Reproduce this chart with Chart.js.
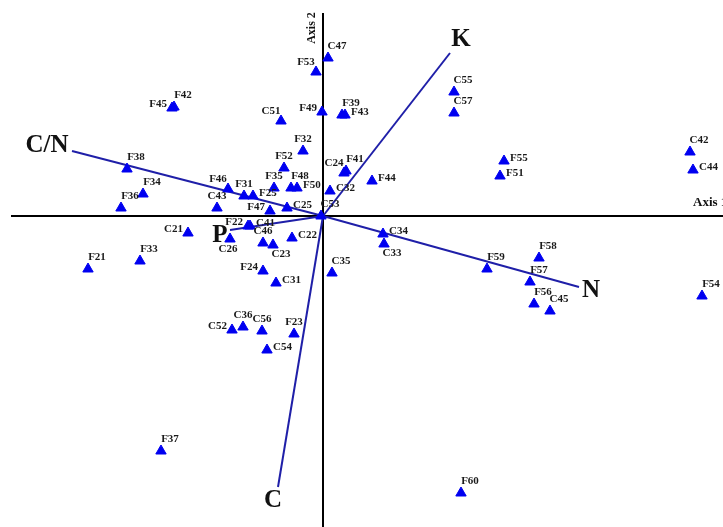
<!DOCTYPE html>
<html>
<head>
<meta charset="utf-8">
<script src="https://cdn.jsdelivr.net/npm/chart.js@4.4.1/dist/chart.umd.min.js"></script>
<style>
  body { margin: 0; background: #fff; }
</style>
</head>
<body>
<canvas id="mycanvas" width="723" height="527"></canvas>
<script>
// site scores (axis 1, axis 2)
var siteNames = ['F42','F45','F38','F34','F36','F46','C43','C21','C26','F33',
                 'F21','C51','F49','F39','F43','F32','F52','C24','F41','F44',
                 'F35','F48','F50','C32','F31','F25','C25','F47','C53','F22',
                 'C41','C46','C23','C22','C34','C33','F24','C35','C31','C36',
                 'C52','C56','F23','C54','C47','F53','C55','C57','F55','F51',
                 'C42','C44','F59','F58','F57','F56','C45','F54','F37','F60'];
var siteAxis1 = [-1.49,-1.51,-1.96,-1.80,-2.02,-0.95,-1.06,-1.35,-0.93,-1.83,
                 -2.35,-0.42,-0.01, 0.19, 0.22,-0.20,-0.39, 0.21, 0.23, 0.49,
                 -0.49,-0.32,-0.26, 0.07,-0.79,-0.70,-0.36,-0.53,-0.02,-0.75,
                 -0.73,-0.60,-0.50,-0.31, 0.60, 0.61,-0.60, 0.09,-0.47,-0.80,
                 -0.91,-0.61,-0.29,-0.56, 0.05,-0.07, 1.31, 1.31, 1.81, 1.77,
                  3.67, 3.70, 1.64, 2.16, 2.07, 2.11, 2.27, 3.79,-1.62, 1.38];
var siteAxis2 = [ 1.09, 1.08, 0.47, 0.22, 0.08, 0.27, 0.08,-0.17,-0.23,-0.45,
                 -0.53, 0.95, 1.04, 1.01, 1.01, 0.65, 0.48, 0.43, 0.45, 0.35,
                  0.28, 0.28, 0.28, 0.25, 0.20, 0.20, 0.08, 0.05, 0.00,-0.10,
                 -0.10,-0.27,-0.29,-0.22,-0.18,-0.28,-0.55,-0.57,-0.67,-1.11,
                 -1.14,-1.15,-1.18,-1.34, 1.58, 1.44, 1.24, 1.03, 0.55, 0.40,
                  0.64, 0.46,-0.53,-0.42,-0.66,-0.88,-0.95,-0.80,-2.35,-2.77];

// environmental vectors
var vectorNames = ['C/N','K','N','C','P'];
var vectorAxis1 = [-2.51, 1.27, 2.56,-0.45,-0.93];
var vectorAxis2 = [ 0.65, 1.63,-0.71,-2.71,-0.14];

var axisTitles = ['Axis 1','Axis 2'];

// where each label sits around its triangle
var labelPos = {
    F45:'w', F46:'nw', C43:'n', C21:'w', C26:'s', C51:'nw', F49:'w', F43:'e',
    F32:'n', F52:'n', C24:'nw', F44:'e', F35:'n', F50:'e', C32:'e', F31:'n',
    F25:'e', C25:'e', F47:'w', F22:'w', C41:'e', C46:'n', C23:'se', C22:'e',
    C34:'e', C33:'se', F24:'w', C31:'e', C36:'n', C52:'w', C56:'n', F23:'n',
    C54:'e', F53:'nw', F55:'e', F51:'e', C44:'e'
};
var vectorLabelPos = { 'C/N':[-25,-5], 'K':[11,-13], 'N':[12,4], 'C':[-5,14], 'P':[-10,6] };

var sitePoints = [];
for (var i in siteNames) {
    sitePoints.push({ x: siteAxis1[i], y: siteAxis2[i] });
}

var vectorSets = [];
for (var j in vectorNames) {
    vectorSets.push({
        type: 'line',
        label: vectorNames[j],
        data: [{ x: 0, y: 0 }, { x: vectorAxis1[j], y: vectorAxis2[j] }],
        borderColor: '#1f1fa8',
        borderWidth: 2,
        pointRadius: 0,
        showLine: true,
        fill: false,
        order: 2
    });
}

var ordinationPlugin = {
    id: 'ordination',
    beforeDatasetsDraw: function (chart) {
        var ctx = chart.ctx;
        var xs = chart.scales.x, ys = chart.scales.y;
        var x0 = xs.getPixelForValue(0), y0 = ys.getPixelForValue(0);
        ctx.save();
        ctx.strokeStyle = '#000';
        ctx.lineWidth = 2;
        ctx.beginPath();
        ctx.moveTo(xs.getPixelForValue(-3.12), y0);
        ctx.lineTo(xs.getPixelForValue(xs.max), y0);
        ctx.moveTo(x0, ys.getPixelForValue(2.03));
        ctx.lineTo(x0, ys.getPixelForValue(ys.min));
        ctx.stroke();

        ctx.fillStyle = '#111';
        ctx.textBaseline = 'middle';
        ctx.textAlign = 'left';
        ctx.font = 'bold 13px "Liberation Serif"';
        ctx.fillText(axisTitles[0], xs.right - 30, y0 - 13);
        ctx.font = 'bold 12px "Liberation Serif"';
        ctx.translate(x0 - 11, 28);
        ctx.rotate(-Math.PI / 2);
        ctx.textAlign = 'center';
        ctx.fillText(axisTitles[1], 0, 0);
        ctx.restore();
    },
    afterDatasetsDraw: function (chart) {
        var ctx = chart.ctx;
        var xs = chart.scales.x, ys = chart.scales.y;
        ctx.save();
        ctx.fillStyle = '#1a1a1a';
        ctx.textBaseline = 'middle';
        ctx.font = 'bold 11px "Liberation Serif"';
        for (var i in siteNames) {
            var px = xs.getPixelForValue(siteAxis1[i]);
            var py = ys.getPixelForValue(siteAxis2[i]) - 1;
            var pos = labelPos[siteNames[i]] || 'ne';
            var tx = px, ty = py, align = 'center';
            if (pos === 'ne') { tx = px + 9; ty = py - 11; }
            else if (pos === 'n') { tx = px; ty = py - 11; }
            else if (pos === 'nw') { tx = px - 10; ty = py - 9; }
            else if (pos === 'e') { tx = px + 6; ty = py - 2; align = 'left'; }
            else if (pos === 'w') { tx = px - 5; ty = py - 3; align = 'right'; }
            else if (pos === 's') { tx = px - 2; ty = py + 11; }
            else if (pos === 'se') { tx = px + 8; ty = py + 10; }
            ctx.textAlign = align;
            ctx.fillText(siteNames[i], tx, ty);
        }
        ctx.font = 'bold 25px "Liberation Serif"';
        ctx.fillStyle = '#111';
        ctx.textAlign = 'center';
        for (var j in vectorNames) {
            var off = vectorLabelPos[vectorNames[j]];
            var vx = xs.getPixelForValue(vectorAxis1[j]) + off[0];
            var vy = ys.getPixelForValue(vectorAxis2[j]) + off[1];
            ctx.fillText(vectorNames[j], vx, vy);
        }
        ctx.restore();
    }
};

var ctx = document.getElementById('mycanvas');

var biplot = new Chart(ctx, {
    type: 'scatter',
    data: {
        datasets: [{
            label: 'Sites',
            data: sitePoints,
            pointStyle: 'triangle',
            pointRadius: 6,
            backgroundColor: '#0000f0',
            borderColor: '#0000f0',
            borderWidth: 1,
            order: 1
        }].concat(vectorSets)
    },
    options: {
        responsive: false,
        animation: false,
        layout: { padding: 0, autoPadding: false },
        plugins: {
            legend: { display: false },
            tooltip: { enabled: false }
        },
        scales: {
            x: { type: 'linear', display: false, min: -3.23, max: 4.00 },
            y: { type: 'linear', display: false, min: -3.11, max: 2.16 }
        }
    },
    plugins: [ordinationPlugin]
});
</script>
</body>
</html>
